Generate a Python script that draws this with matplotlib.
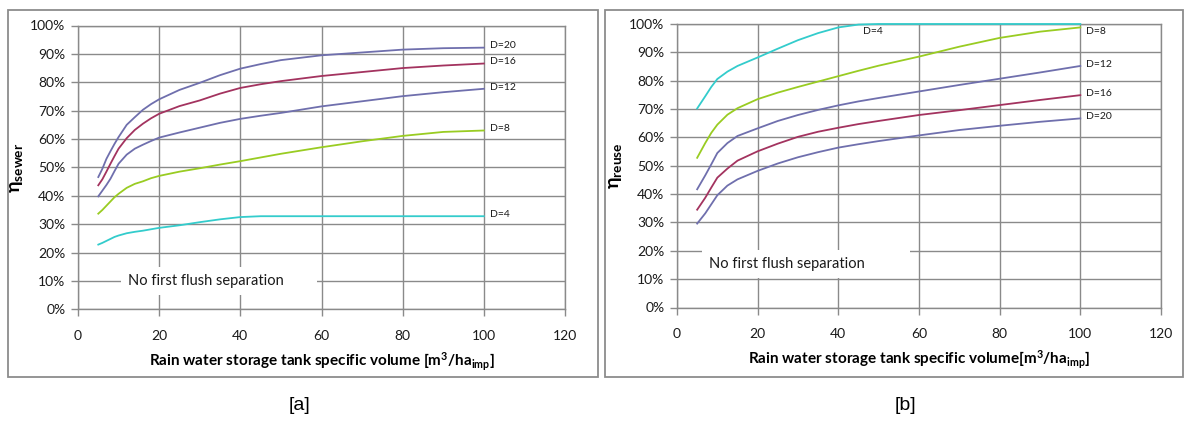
import matplotlib.pyplot as plt
from matplotlib.patches import Rectangle

# Storage tank specific volume [m3/ha_imp]
XA = [5, 6, 7, 8, 9, 10, 12, 14, 16, 18, 20, 25, 30, 35, 40, 45, 50, 60, 70, 80, 90, 100]
XB = [5, 7, 8.5, 10, 12.5, 15, 20, 25, 30, 35, 40, 45, 50, 60, 70, 80, 90, 100]

# [a] sewer efficiency (%)
SEWER_D20 = [46.6, 49.5, 53.0, 55.7, 58.3, 60.7, 65.0, 67.7, 70.3, 72.3, 74.0, 77.3, 79.8, 82.5,
             84.8, 86.4, 87.8, 89.5, 90.5, 91.5, 92.0, 92.2]
SEWER_D16 = [43.7, 45.8, 48.5, 51.3, 54.0, 56.6, 60.3, 63.2, 65.4, 67.3, 68.9, 71.6, 73.6, 76.0,
             78.0, 79.3, 80.4, 82.2, 83.6, 85.0, 85.9, 86.6]
SEWER_D12 = [39.8, 41.8, 43.8, 46.0, 48.7, 51.3, 54.5, 56.6, 58.0, 59.3, 60.5, 62.3, 64.0, 65.7,
             67.1, 68.2, 69.2, 71.5, 73.3, 75.1, 76.5, 77.7]
SEWER_D8 = [33.7, 35.0, 36.5, 38.0, 39.5, 40.7, 42.8, 44.2, 45.1, 46.2, 47.0, 48.5, 49.7, 51.0,
            52.2, 53.5, 54.8, 57.1, 59.2, 61.1, 62.5, 63.0]
SEWER_D4 = [22.8, 23.4, 24.1, 24.8, 25.5, 26.0, 26.8, 27.3, 27.7, 28.2, 28.7, 29.6, 30.7, 31.7,
            32.5, 32.8, 32.8, 32.8, 32.8, 32.8, 32.8, 32.8]

# [b] reuse efficiency (%)
REUSE_D4 = [70.2, 74.5, 77.8, 80.6, 83.2, 85.2, 88.2, 91.3, 94.3, 96.8, 98.8, 99.8, 100, 100,
            100, 100, 100, 100]
REUSE_D8 = [52.8, 58.0, 61.6, 64.5, 68.0, 70.3, 73.5, 75.8, 77.8, 79.7, 81.6, 83.5, 85.3, 88.5,
            92.0, 95.1, 97.3, 98.8]
REUSE_D12 = [41.7, 46.6, 50.5, 54.5, 58.0, 60.5, 63.2, 65.8, 67.9, 69.7, 71.3, 72.7, 73.9, 76.2,
             78.5, 80.7, 82.9, 85.2]
REUSE_D16 = [34.5, 38.7, 42.3, 45.8, 49.0, 51.8, 55.1, 57.8, 60.2, 62.0, 63.4, 64.7, 65.8, 67.9,
             69.6, 71.4, 73.2, 74.9]
REUSE_D20 = [29.6, 33.2, 36.4, 39.6, 43.0, 45.2, 48.2, 50.8, 53.0, 54.8, 56.4, 57.6, 58.7, 60.7,
             62.6, 64.1, 65.5, 66.7]

COL_BLUE = "#6f6fad"
COL_RED = "#a3335f"
COL_GREEN = "#99cc22"
COL_CYAN = "#33cccc"
GRID = "#8a8a8a"

plt.rcParams["font.family"] = ["Lato", "DejaVu Sans"]
plt.rcParams["mathtext.default"] = "regular"

fig = plt.figure(figsize=(11.88, 4.21), dpi=100)

# panel frames
for x0, x1 in [(8, 598), (605, 1183)]:
    fig.patches.append(Rectangle((x0 / 1188, 1 - 377 / 421), (x1 - x0) / 1188, 367 / 421,
                                 transform=fig.transFigure, fill=False,
                                 edgecolor="#8c8c8c", lw=1.3))

ax_a = fig.add_axes([78 / 1188, 1 - 309.3 / 421, 487 / 1188, 283.8 / 421])
ax_b = fig.add_axes([677 / 1188, 1 - 307.5 / 421, 484 / 1188, 283.5 / 421])


def style(ax):
    ax.set_xlim(0, 120)
    ax.set_ylim(0, 100)
    ax.set_xticks(range(0, 121, 20))
    ax.set_yticks(range(0, 101, 10))
    ax.set_yticklabels([f"{v}%" for v in range(0, 101, 10)])
    ax.grid(True, color=GRID, lw=1.0)
    ax.set_axisbelow(True)
    for s in ax.spines.values():
        s.set_color(GRID)
        s.set_linewidth(1.0)
    ax.tick_params(axis="both", colors=GRID, labelcolor="#1a1a1a", labelsize=10,
                   length=5, width=1.0, direction="out")
    ax.tick_params(axis="x", pad=10)
    ax.tick_params(axis="y", pad=4)


style(ax_a)
style(ax_b)

# [a]
series_a = [(SEWER_D20, COL_BLUE, "D=20"), (SEWER_D16, COL_RED, "D=16"),
            (SEWER_D12, COL_BLUE, "D=12"), (SEWER_D8, COL_GREEN, "D=8"),
            (SEWER_D4, COL_CYAN, "D=4")]
for y, c, lab in series_a:
    ax_a.plot(XA, y, color=c, lw=1.3, clip_on=False, zorder=3)
    ax_a.text(101.5, y[-1] + 0.6, lab, fontsize=7.5, va="center", ha="left", color="#1a1a1a")

ax_a.text(12.3, 9.8, "No first flush separation       ", fontsize=10.5, va="center", ha="left",
          color="#1a1a1a", bbox=dict(facecolor="white", edgecolor="none", pad=5))
ax_a.set_xlabel(r"Rain water storage tank specific volume [m$^3$/ha$_{imp}$]",
                fontsize=11, fontweight="bold", labelpad=6)
ax_a.set_ylabel(r"η$_{sewer}$", fontsize=14, fontweight="bold")
ax_a.yaxis.set_label_coords(-0.108, 0.5)

# [b]
series_b = [(REUSE_D4, COL_CYAN, "D=4"), (REUSE_D8, COL_GREEN, "D=8"),
            (REUSE_D12, COL_BLUE, "D=12"), (REUSE_D16, COL_RED, "D=16"),
            (REUSE_D20, COL_BLUE, "D=20")]
for y, c, lab in series_b:
    ax_b.plot(XB, y, color=c, lw=1.3, clip_on=False, zorder=3)
    if lab == "D=4":
        ax_b.text(46, 97.4, lab, fontsize=7.5, va="center", ha="left", color="#1a1a1a")
    else:
        ax_b.text(101.5, min(y[-1] + 0.6, 97.4), lab, fontsize=7.5, va="center", ha="left",
                  color="#1a1a1a")

ax_b.text(8.0, 15.3, "No first flush separation          ", fontsize=10.5, va="center", ha="left",
          color="#1a1a1a", bbox=dict(facecolor="white", edgecolor="none", pad=5))
ax_b.set_xlabel(r"Rain water storage tank specific volume[m$^3$/ha$_{imp}$]",
                fontsize=11, fontweight="bold", labelpad=6)
ax_b.set_ylabel(r"η$_{reuse}$", fontsize=14, fontweight="bold")
ax_b.yaxis.set_label_coords(-0.11, 0.5)

fig.text(300 / 1188, 1 - 405 / 421, "[a]", fontsize=14, family="Liberation Sans",
         ha="center", va="center")
fig.text(905 / 1188, 1 - 405 / 421, "[b]", fontsize=14, family="Liberation Sans",
         ha="center", va="center")

fig.savefig("out.png", dpi=100)
